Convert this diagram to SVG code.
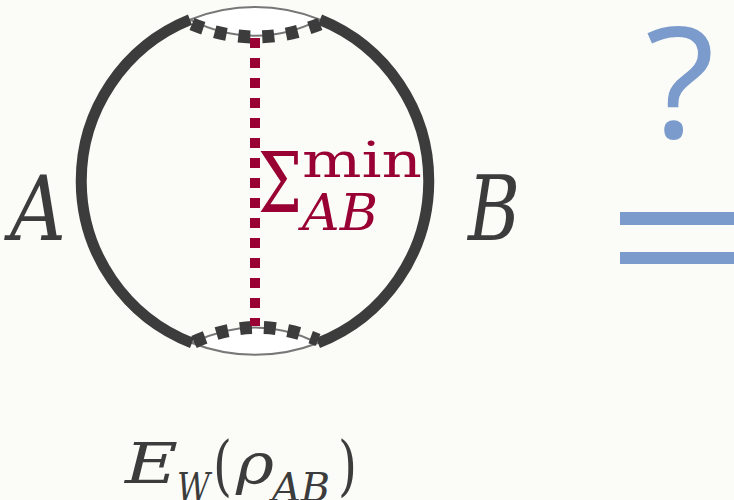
<svg xmlns="http://www.w3.org/2000/svg" width="734" height="500" viewBox="0 0 734 500">
<style>
.thick{fill:none;stroke:#3c3c3c;stroke-width:11}
.dash{fill:none;stroke:#3c3c3c;stroke-width:13;stroke-dasharray:12 12}
.thin{fill:#ffffff;stroke:#777777;stroke-width:2}
.red{fill:none;stroke:#990033;stroke-width:10;stroke-dasharray:10 10}
.math{font-family:"DejaVu Serif","Liberation Serif",serif;fill:#3c3c3c}
.it{font-style:italic}
.rm{font-family:"DejaVu Serif","Liberation Serif",serif;fill:#990033}
.blue{fill:#7b9bcc}
</style>
<rect width="734" height="500" fill="#fbfcf7"/>
<g id="circle">
<path class="thin" d="M190,19.6 A174,174 0 0 1 320,19.6 Q255,52 190,19.6 Z"/>
<path class="thin" d="M192,343 Q255,312 318,343 A174,174 0 0 1 192,343 Z"/>
<path class="thick" d="M190,19.6 A174,174 0 0 0 192,343"/>
<path class="thick" d="M320,19.6 A174,174 0 0 1 318,343"/>
<path class="dash" d="M192,24 Q255,50 320,24"/>
<path class="dash" d="M194,342 Q255,314 318,340"/>
</g>
<g id="cut">
<line class="red" x1="255" y1="38" x2="255" y2="326"/>
<text class="rm" x="258" y="212" font-size="84" textLength="44" lengthAdjust="spacingAndGlyphs">Σ</text>
<text class="rm" x="302" y="177" font-size="48" textLength="120" lengthAdjust="spacingAndGlyphs">min</text>
<text class="rm it" x="302" y="230" font-size="50" textLength="76" lengthAdjust="spacingAndGlyphs">AB</text>
</g>
<g id="labelA"><text class="math it" x="10" y="240" font-size="89" textLength="56" lengthAdjust="spacingAndGlyphs">A</text></g>
<g id="labelB"><text class="math it" x="468" y="240" font-size="89" textLength="52" lengthAdjust="spacingAndGlyphs">B</text></g>
<g id="formula" class="math">
<text class="it" x="125" y="483" font-size="56" textLength="53" lengthAdjust="spacingAndGlyphs">E</text>
<text class="it" x="177" y="501" font-size="40" textLength="33" lengthAdjust="spacingAndGlyphs">W</text>
<text x="213" y="488" font-size="66" textLength="19" lengthAdjust="spacingAndGlyphs">(</text>
<text class="it" x="236" y="483" font-size="56" textLength="38" lengthAdjust="spacingAndGlyphs">ρ</text>
<text class="it" x="272" y="501" font-size="40" textLength="58" lengthAdjust="spacingAndGlyphs">AB</text>
<text x="338" y="488" font-size="66" textLength="19" lengthAdjust="spacingAndGlyphs">)</text>
</g>
<g id="question">
<text class="blue" x="645" y="138" font-size="154" textLength="70" lengthAdjust="spacingAndGlyphs" font-family="'Open Sans',sans-serif">?</text>
<rect class="blue" x="620" y="212" width="114" height="13"/>
<rect class="blue" x="620" y="252" width="114" height="12"/>
</g>
</svg>
